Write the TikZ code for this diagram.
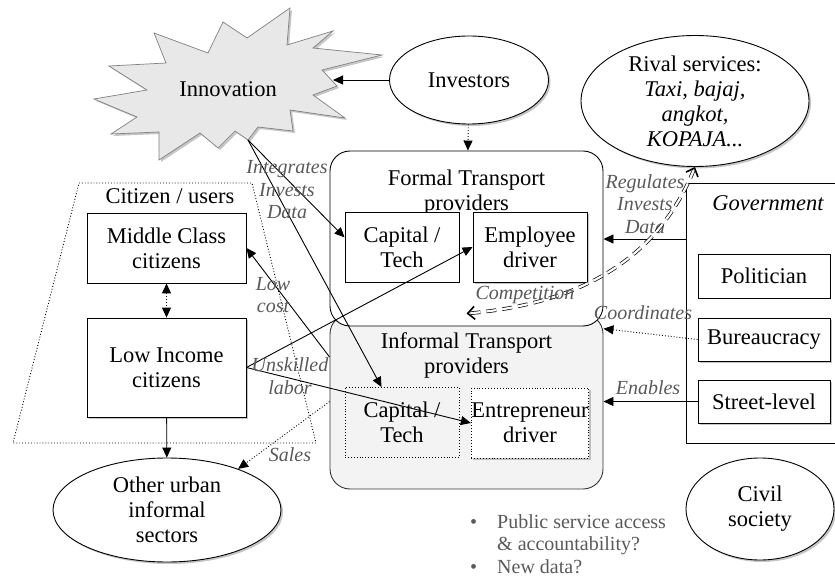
\documentclass[tikz,border=0pt]{standalone}
\usepackage{fontspec}
\setmainfont{Liberation Serif}
\usepackage{tikz}
\usetikzlibrary{arrows.meta,shapes.geometric,shadows}
\usepackage{xcolor}
\definecolor{infgray}{RGB}{243,243,243}
\definecolor{stargray}{RGB}{232,232,232}
\definecolor{labelgray}{RGB}{89,89,89}
\tikzstyle{arrow} = [line width=0.9pt,-{Triangle[length=10pt,width=9pt]}]
\tikzstyle{twoway} = [line width=0.9pt,{Triangle[length=10pt,width=9pt]}-{Triangle[length=10pt,width=9pt]}]
\tikzstyle{rivalry} = [double=white, draw=black, line width=0.7pt, double distance=2.2pt, dash pattern=on 10pt off 6pt, {Straight Barb[length=7pt,width=13pt,line width=1.6pt]}-{Straight Barb[length=7pt,width=13pt,line width=1.6pt]}]
\tikzstyle{box} = [rectangle, draw, fill=white, line width=0.9pt, inner sep=0pt, align=center, minimum width=114pt, minimum height=70pt]
\tikzstyle{shadowed} = [drop shadow={shadow xshift=2pt,shadow yshift=-2pt,opacity=0.45}]
\tikzstyle{blob} = [ellipse, draw, fill=white, line width=0.9pt, inner sep=0pt, align=center, shadowed]
\tikzstyle{container} = [rectangle, rounded corners=20pt, draw, line width=0.9pt, minimum width=273pt, minimum height=175pt]
\tikzstyle{flowlabel} = [font=\fontsize{20}{22.5}\selectfont\itshape, text=labelgray, align=center, inner sep=0pt]

\begin{document}
\begin{tikzpicture}[x=1pt, y=-1pt, font=\fontsize{22.5}{25}\selectfont]
\useasboundingbox (0,0) rectangle (835,577);

% Innovation star
\draw[fill=stargray, draw=gray, line width=0.7pt, shadowed]
  (290,8) -- (247,38) -- (223,22) -- (208,53) -- (154,33) -- (166,63)
  -- (109,66) -- (147,90) -- (94,99) -- (137,117) -- (111,134) -- (159,132)
  -- (159,160) -- (200,133) -- (218,148) -- (235,131) -- (248,140) -- (258,127)
  -- (293,131) -- (290,110) -- (345,118) -- (313,95) -- (337,86) -- (322,70)
  -- (382,55) -- (313,48) -- (333,31) -- (287,45) -- cycle;
\node (innovation) at (228,89) {Innovation};
\coordinate (innotip) at (248,140);
\coordinate (innoedge) at (333,80);

\node (investors) [blob, minimum width=159pt, minimum height=88pt] at (469,80) {Investors};
\node (rival) [blob, minimum width=228pt, minimum height=131pt] at (695,101)
  {Rival services:\\\itshape Taxi, bajaj,\\\itshape angkot,\\\itshape KOPAJA...};

% Citizens
\draw[dotted, line width=0.9pt] (79,183) -- (252,183) -- (316,443) -- (13,443) -- cycle;
\node (citizens) at (170,196) {Citizen / users};
\node (mid) [box, minimum width=159pt] at (166.5,248) {Middle Class\\citizens};
\node (lowinc) [box, shadowed, minimum width=159pt, minimum height=99pt] at (166.5,367.5) {Low Income\\citizens};
\node (other) [blob, minimum width=228pt, minimum height=104pt] at (167,510) {Other urban\\informal\\sectors};

% Transport providers
\node (informal) [container, fill=infgray, draw=black!80] at (466.5,401.5) {};
\node (informaltitle) [align=center] at (466.5,355) {Informal Transport\\providers};
\node (icap) [box, dotted, fill=infgray] at (402,422.5) {Capital /\\Tech};
\node (ent) [box, dotted, shadowed] at (530,423) {Entrepreneur\\driver};

\node (formal) [container, fill=white] at (466.5,238.5) {};
\node (formaltitle) [align=center] at (466.5,193) {Formal Transport\\providers};
\node (fcap) [box] at (402,247.5) {Capital /\\Tech};
\node (emp) [box, shadowed] at (530,247) {Employee\\driver};

% Government
\node (gov) [rectangle, draw, line width=0.9pt, minimum width=200pt, minimum height=260pt] at (786,313) {};
\node (govtitle) [font=\fontsize{22.5}{25}\selectfont\itshape] at (768,203) {Government};
\node (politician) [box, minimum width=132pt, minimum height=44pt] at (764,276) {Politician};
\node (bur) [box, shadowed, minimum width=132pt, minimum height=43pt] at (764,339.5) {Bureaucracy};
\node (street) [box, shadowed, minimum width=132pt, minimum height=43pt] at (764,401.5) {Street-level};

\node (civil) [blob, minimum width=148pt, minimum height=102pt] at (760,509) {Civil\\society};

\node (questions) [anchor=base west, text=labelgray, inner sep=0pt, font=\fontsize{20}{22.5}\selectfont] at (470,528)
  {\begin{tabular}[t]{@{}p{27pt}@{}l@{}}
   \textbullet & Public service access\\
    & \& accountability?\\
   \textbullet & New data?
   \end{tabular}};

% Connectors
\draw[arrow, dotted] (investors) -- (formal);
\draw[arrow] (investors.west) -- (innoedge);
\draw[arrow] (innotip) -- (fcap.170);
\draw[arrow] (innotip) -- (icap.120);
\node (integrates) [flowlabel] at (287,190) {Integrates\\Invests\\Data};

\draw[twoway, dotted] (mid) -- (lowinc);
\draw[arrow] (lowinc) -- (other);
\draw[arrow] (informal.162) -- (mid.east);
\node (lowcost) [flowlabel] at (273,295) {Low\\cost};
\draw[arrow] (lowinc.east) -- (emp.west);
\draw[arrow] (lowinc.east) -- (ent.west);
\node (unskilled) [flowlabel] at (290,376) {Unskilled\\labor};
\draw[arrow, dotted] (informal.west) -- (other.30);
\node (sales) [flowlabel] at (290,455) {Sales};

\coordinate (govout) at ([yshift=74pt]gov.west);
\draw[arrow] (govout) -- (govout -| formal.east);
\node (regulates) [flowlabel] at (645,204) {Regulates\\Invests\\Data};
\draw[rivalry] (rival.south) to[out=-112, in=5] (informal.north);
\node (competition) [flowlabel] at (525,295) {Competition};
\draw[arrow, dotted] (bur.west) -- (informal.28);
\node (coordinates) [flowlabel] at (643,313) {Coordinates};
\draw[arrow] (street.west) -- (informal.east);
\node (enables) [flowlabel] at (648,388) {Enables};
\end{tikzpicture}
\end{document}
